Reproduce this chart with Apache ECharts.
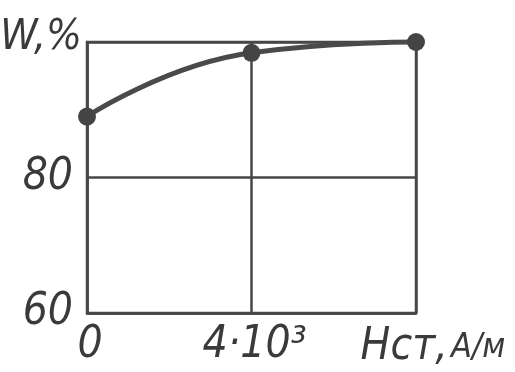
<!DOCTYPE html>
<html>
<head>
<meta charset="utf-8">
<script src="https://cdn.jsdelivr.net/npm/echarts@6/dist/echarts.min.js"></script>
<style>
  html, body { margin: 0; padding: 0; background: #ffffff; }
  #chart { width: 515px; height: 372px; }
</style>
</head>
<body>
<div id="chart"></div>
<script>
// Field strength, A/m
const fieldH = [0, 4000, 8000];
// Efficiency W, %
const efficiency = [89, 98.4, 100];
// Axis tick labels
const xTickLabels = { 0: '0', 4000: '4·10³', 8000: '' };
const yTickLabels = { 60: '60', 80: '80', 100: '' };

const ink = '#474747';
const textInk = '#3a3a3a';
const font = "'DejaVu Sans Condensed', 'Liberation Sans Narrow', sans-serif";

const chart = echarts.init(document.getElementById('chart'), null, { renderer: 'canvas' });
chart.setOption({
  backgroundColor: '#ffffff',
  animation: false,
  grid: {
    left: 87, right: 99, top: 42, bottom: 59,
    containLabel: false,
    outerBoundsMode: 'none',
    show: true, borderColor: ink, borderWidth: 2.5
  },
  xAxis: {
    type: 'value',
    min: 0, max: 8000, interval: 4000,
    axisLine: { show: true, lineStyle: { color: ink, width: 2.5 } },
    axisTick: { show: false },
    splitLine: { show: true, lineStyle: { color: ink, width: 2.5 } },
    axisLabel: {
      margin: 11,
      color: textInk,
      fontFamily: font,
      fontStyle: 'italic',
      fontSize: 44,
      padding: [0, 0, 0, 6],
      formatter: v => xTickLabels[v] ?? ''
    },
    name: '{a|Нст,} {b|А/м}',
    nameLocation: 'end',
    nameGap: 17,
    nameTextStyle: {
      align: 'center',
      verticalAlign: 'top',
      padding: [13, 0, 0, 0],
      rich: {
        a: { fontFamily: font, fontStyle: 'italic', fontSize: 44, color: textInk },
        b: { fontFamily: font, fontStyle: 'italic', fontSize: 34, color: textInk }
      }
    }
  },
  yAxis: {
    type: 'value',
    min: 60, max: 100, interval: 20,
    axisLine: { show: true, lineStyle: { color: ink, width: 2.5 } },
    axisTick: { show: false },
    splitLine: { show: true, lineStyle: { color: ink, width: 2.5 } },
    axisLabel: {
      margin: 14,
      color: textInk,
      fontFamily: font,
      fontStyle: 'italic',
      fontSize: 44,
      formatter: v => yTickLabels[v] ?? ''
    },
    name: 'W,%',
    nameLocation: 'end',
    nameGap: 4,
    nameTextStyle: {
      align: 'right',
      verticalAlign: 'middle',
      padding: [0, 5, 0, 0],
      fontFamily: font,
      fontStyle: 'italic',
      fontSize: 42,
      color: textInk
    }
  },
  series: [{
    type: 'line',
    data: fieldH.map((h, i) => [h, efficiency[i]]),
    smooth: 0.5,
    clip: false,
    symbol: 'circle',
    symbolSize: 18,
    itemStyle: { color: '#444444' },
    lineStyle: { color: '#4a4a4a', width: 5 }
  }]
});
</script>
</body>
</html>
